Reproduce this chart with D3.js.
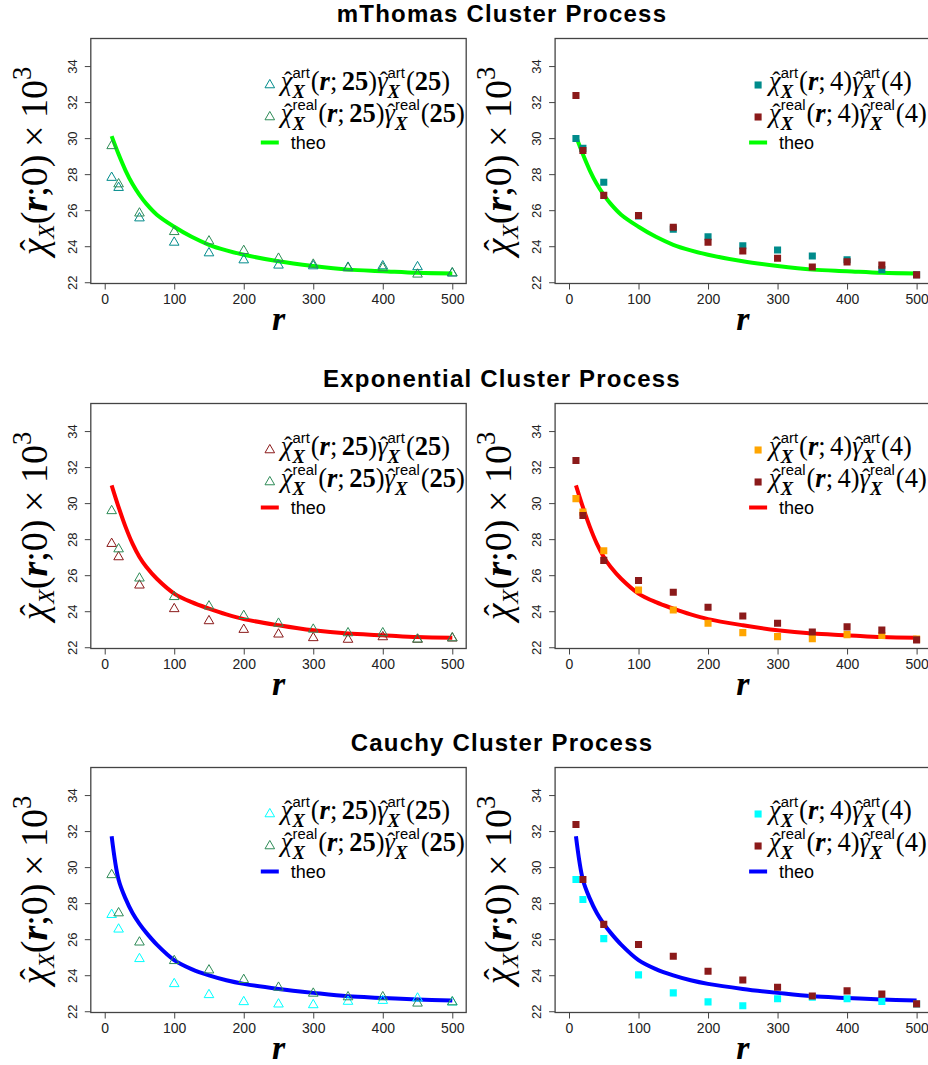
<!DOCTYPE html>
<html>
<head>
<meta charset="utf-8">
<script src="https://cdn.jsdelivr.net/npm/d3@7"></script>
<style>
  body { margin: 0; background: #fff; }
  svg { display: block; }
</style>
</head>
<body>
<svg id="chart" width="928" height="1065"></svg>
<script>
// r values where the estimates were computed
const rVals = [10, 20, 50, 100, 150, 200, 250, 300, 350, 400, 450, 500];
// real-data estimates (same in every row)
const realTri = [29.57, 27.45, 25.83, 24.80, 24.28, 23.75, 23.32, 22.99, 22.79, 22.79, 22.44, 22.51];
const realSq  = [32.37, 29.31, 26.82, 25.70, 25.05, 24.22, 23.73, 23.33, 22.85, 23.13, 22.95, 22.41];
// artificial estimates
const thomasArtTri = [27.81, 27.25, 25.56, 24.21, 23.62, 23.23, 22.94, 22.90, 22.82, 22.90, 22.85, 22.50];
const thomasArtSq  = [29.98, 29.43, 27.55, 25.68, 24.95, 24.53, 24.03, 23.79, 23.46, 23.25, 22.70, 22.42];
const expArtTri = [27.75, 27.01, 25.44, 24.13, 23.46, 22.98, 22.72, 22.52, 22.43, 22.57, 22.43, 22.50];
const expArtSq  = [30.25, 29.50, 27.36, 25.18, 24.07, 23.33, 22.81, 22.59, 22.48, 22.70, 22.65, 22.45];
const cauArtTri = [27.36, 26.55, 24.91, 23.52, 22.91, 22.52, 22.39, 22.35, 22.54, 22.59, 22.72, 22.50];
const cauArtSq  = [29.31, 28.20, 26.03, 24.02, 23.02, 22.52, 22.30, 22.69, 22.78, 22.69, 22.54, 22.40];
// theoretical curves
const theoR = [10, 20, 30, 40, 50, 60, 75, 100, 125, 150, 175, 200, 250, 300, 350, 400, 450, 500];
const thomasTheo = [30.11, 29.10, 28.20, 27.45, 26.85, 26.35, 25.75, 25.08, 24.52, 24.08, 23.77, 23.53, 23.16, 22.90, 22.70, 22.61, 22.52, 22.48];
const expTheo    = [30.99, 29.78, 28.68, 27.75, 27.01, 26.45, 25.80, 24.98, 24.50, 24.14, 23.82, 23.56, 23.22, 22.94, 22.76, 22.67, 22.57, 22.53];
const cauTheo    = [31.72, 29.30, 28.25, 27.45, 26.85, 26.35, 25.70, 24.84, 24.34, 23.99, 23.72, 23.52, 23.24, 23.02, 22.83, 22.74, 22.65, 22.59];

const titles = ["mThomas Cluster Process", "Exponential Cluster Process", "Cauchy Cluster Process"];
const xTicks = [0, 100, 200, 300, 400, 500];
const yTicks = [22, 24, 26, 28, 30, 32, 34];

const rows = [
  {theo: thomasTheo, line: "#00ff00", triArt: thomasArtTri, triCol: "#008b8b", sqArt: thomasArtSq, sqCol: "#008b8b"},
  {theo: expTheo, line: "#ff0000", triArt: expArtTri, triCol: "#8b1a1a", sqArt: expArtSq, sqCol: "#ffa500"},
  {theo: cauTheo, line: "#0000ff", triArt: cauArtTri, triCol: "#00ffff", sqArt: cauArtSq, sqCol: "#00ffff"}
];
const realTriCol = "#2e8b57", realSqCol = "#8b1a1a";

const svg = d3.select("#chart");
const serif = "Liberation Serif, DejaVu Serif, serif";
const sans = "Liberation Sans, Arial, sans-serif";

const colX = [90.8, 555.1], rowY = [38.5, 403.5, 767.5];
const pw = 375.4, ph = 245;

// lays out a math-like label piece by piece; returns width
function mathText(g, segs, size) {
  let x = 0;
  segs.forEach(s => {
    if (s.sup !== undefined) {
      const a = g.append("text").attr("x", x).attr("y", -size * 0.44)
        .style("font-family", sans).style("font-size", size * 0.56 + "px").text(s.sup);
      const b = g.append("text").attr("x", x).attr("y", size * 0.3)
        .style("font-family", serif).style("font-style", "italic").style("font-weight", "bold")
        .style("font-size", size * 0.7 + "px").text(s.sub);
      x += Math.max(a.node().getComputedTextLength(), b.node().getComputedTextLength()) + 1;
    } else if (s.sp) {
      x += s.sp * size;
    } else {
      const fs = (s.s || 1) * size;
      const t = g.append("text").attr("x", x).attr("y", s.dy ? s.dy * size : 0)
        .style("font-family", serif)
        .style("font-size", fs + "px")
        .style("font-style", s.i ? "italic" : "normal")
        .style("font-weight", s.b ? "bold" : "normal")
        .text(s.t);
      const w = t.node().getComputedTextLength();
      if (s.hat) {
        g.append("text").attr("x", x + w * 0.62).attr("y", -fs * 0.08)
          .attr("text-anchor", "middle")
          .style("font-family", serif).style("font-size", fs * 0.9 + "px")
          .text("\u02C6");
      }
      x += w;
    }
  });
  return x;
}

function legendSegs(kind, n, bold) {
  return [
    {t: "χ", i: true, hat: true}, {sup: kind, sub: "X"},
    {t: "("}, {t: "r", i: true, b: true}, {t: ";"}, {sp: 0.17}, {t: n, b: bold}, {t: ")"},
    {t: "γ", i: true, hat: true}, {sup: kind, sub: "X"},
    {t: "("}, {t: n, b: bold}, {t: ")"}
  ];
}

const yLabSegs = [
  {t: "χ", i: true, hat: true}, {t: "X", i: true, s: 0.62, dy: 0.18},
  {t: "("}, {t: "r", i: true, b: true}, {t: ";"}, {t: "0"}, {t: ")"},
  {sp: 0.2}, {t: "×"}, {sp: 0.2}, {t: "10"}, {t: "3", s: 0.7, dy: -0.42}
];

rows.forEach((row, ri) => {
  const top = rowY[ri];

  svg.append("text")
    .attr("x", 502).attr("y", top - 16.5)
    .attr("text-anchor", "middle")
    .style("font-family", sans).style("font-weight", "bold").style("font-size", "24px")
    .style("letter-spacing", "1.2px")
    .text(titles[ri]);

  for (let ci = 0; ci < 2; ci++) {
    const left = colX[ci];
    const x = d3.scaleLinear().domain([-20, 520]).range([left, left + pw]);
    const y = d3.scaleLinear().domain([21.93, 35.53]).range([top + ph, top]);
    const g = svg.append("g");

    // x axis
    const xa = g.append("g").attr("transform", `translate(0,${top + ph})`)
      .call(d3.axisBottom(x).tickValues(xTicks).tickSize(6).tickPadding(5).tickSizeOuter(0));
    xa.select(".domain").remove();
    xa.selectAll("line").attr("stroke", "#444");
    xa.selectAll("text").style("font-family", sans).style("font-size", "14px").attr("fill", "#222");

    // y axis, labels parallel to the axis
    const ya = g.append("g").attr("transform", `translate(${left},0)`)
      .call(d3.axisLeft(y).tickValues(yTicks).tickSize(6).tickSizeOuter(0));
    ya.select(".domain").remove();
    ya.selectAll("line").attr("stroke", "#444");
    ya.selectAll("text")
      .attr("transform", "rotate(-90)")
      .attr("x", 0).attr("y", -14).attr("dy", null)
      .attr("text-anchor", "middle")
      .style("font-family", sans).style("font-size", "13px").attr("fill", "#222");

    // clip to the plot box
    const clipId = `clip${ri}${ci}`;
    g.append("clipPath").attr("id", clipId).append("rect")
      .attr("x", left).attr("y", top).attr("width", pw).attr("height", ph);
    const plot = g.append("g").attr("clip-path", `url(#${clipId})`);

    const line = d3.line().x((d, i) => x(theoR[i])).y(d => y(d)).curve(d3.curveCatmullRom.alpha(0.5));
    plot.append("path").datum(row.theo)
      .attr("d", line).attr("fill", "none").attr("stroke", row.line).attr("stroke-width", 4);

    if (ci === 0) {
      const tri = d3.symbol().type(d3.symbolTriangle).size(40);
      [[row.triArt, row.triCol], [realTri, realTriCol]].forEach(([vals, col]) => {
        plot.selectAll(null).data(vals).enter().append("path")
          .attr("d", tri)
          .attr("transform", (d, i) => `translate(${x(rVals[i])},${y(d)})`)
          .attr("fill", "none").attr("stroke", col).attr("stroke-width", 1);
      });
    } else {
      const sq = d3.symbol().type(d3.symbolSquare).size(50);
      [[row.sqArt, row.sqCol], [realSq, realSqCol]].forEach(([vals, col]) => {
        plot.selectAll(null).data(vals).enter().append("path")
          .attr("d", sq)
          .attr("transform", (d, i) => `translate(${x(rVals[i])},${y(d)})`)
          .attr("fill", col);
      });
    }

    // box
    g.append("rect").attr("x", left).attr("y", top).attr("width", pw).attr("height", ph)
      .attr("fill", "none").attr("stroke", "#444").attr("stroke-width", 1.3);

    // x label
    g.append("text").attr("x", left + pw / 2).attr("y", top + ph + 46)
      .attr("text-anchor", "middle")
      .style("font-family", serif).style("font-style", "italic").style("font-weight", "bold")
      .style("font-size", "34px").text("r");

    // y label
    const yl = g.append("g").attr("transform", `translate(${left - 44},${top + ph / 2}) rotate(-90)`);
    const yli = yl.append("g");
    const wl = mathText(yli, yLabSegs, 38);
    yli.attr("transform", `translate(${-wl / 2},0)`);

    // legend
    const lx = ci === 0 ? 179 : 203;
    const n = ci === 0 ? "25" : "4";
    const cols = ci === 0 ? [row.triCol, realTriCol] : [row.sqCol, realSqCol];
    ["art", "real"].forEach((kind, k) => {
      const cy = top + 46.5 + k * 32;
      if (ci === 0) {
        g.append("path").attr("d", d3.symbol().type(d3.symbolTriangle).size(40))
          .attr("transform", `translate(${left + lx},${cy})`)
          .attr("fill", "none").attr("stroke", cols[k]);
      } else {
        g.append("path").attr("d", d3.symbol().type(d3.symbolSquare).size(50))
          .attr("transform", `translate(${left + lx},${cy})`).attr("fill", cols[k]);
      }
      const tg = g.append("g").attr("transform", `translate(${left + lx + 11},${cy + 5})`);
      mathText(tg, legendSegs(kind, n, ci === 0), 26.5);
    });
    g.append("line")
      .attr("x1", left + lx - 9).attr("x2", left + lx + 9)
      .attr("y1", top + 104).attr("y2", top + 104)
      .attr("stroke", row.line).attr("stroke-width", 4);
    g.append("text").attr("x", left + lx + 21).attr("y", top + 110.5)
      .style("font-family", sans).style("font-size", "18px").text("theo");
  }
});
</script>
</body>
</html>
